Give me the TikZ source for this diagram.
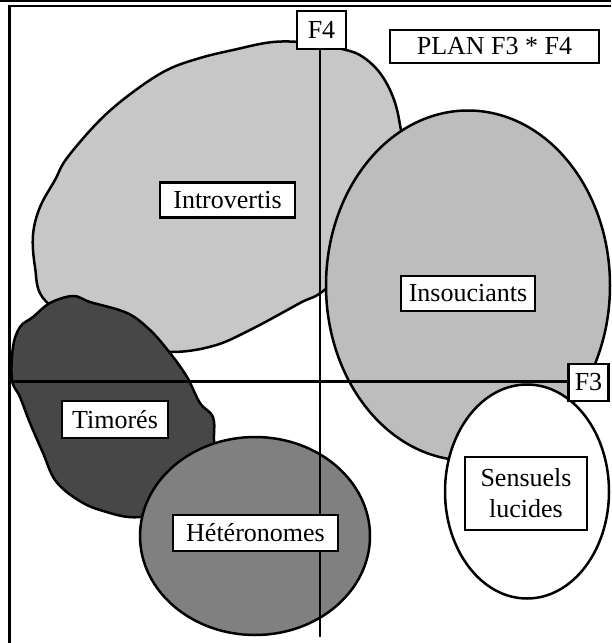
\documentclass[tikz,border=0pt]{standalone}
\usepackage{fontspec}
\setmainfont{Liberation Serif}
\begin{document}
\begin{tikzpicture}[x=1pt,y=-1pt,
  outline/.style={draw=black,line width=2.5pt,line join=round},
  tag/.style={draw=black,line width=2.4pt,fill=white,inner sep=0pt,
    font=\fontsize{26}{31}\selectfont,text=black,align=center},
  axis/.style={draw=black,line width=2.2pt}]
\definecolor{introfill}{gray}{0.78}
\definecolor{insoufill}{gray}{0.74}
\definecolor{timofill}{gray}{0.28}
\definecolor{heterofill}{gray}{0.50}
\useasboundingbox (0,0) rectangle (611,643);

% frame
\draw[line width=1.8pt] (0,1.2) -- (611,1.2);
\draw[line width=2.5pt] (611,5.8) -- (9.5,5.8) -- (9.5,643);

% Introvertis
\draw[outline,fill=introfill] plot[smooth cycle,tension=0.6] coordinates {
  (43,298) (35,267) (33,235) (40,207) (55,180) (67,158) (100,120) (133,92)
  (167,70) (200,58) (233,50) (273,42) (310,43) (346,50) (363,57) (380,73)
  (393,97) (400,125) (405,170) (390,230) (327,288) (300,303) (250,330)
  (213,346) (170,352) (120,345) (80,325)};

% Timores
\draw[outline,fill=timofill] plot[smooth cycle,tension=0.6] coordinates {
  (73,296) (90,302) (127,313) (150,330) (170,353) (187,377) (200,403)
  (213,417) (214,440) (215,470) (190,500) (140,517) (100,510) (75,498)
  (55,480) (43,453) (30,423) (20,397) (12,380) (13,347) (20,327) (33,317)
  (50,303)};

% Insouciants
\draw[outline,fill=insoufill] (468,285.5) ellipse [x radius=142, y radius=175];

% Heteronomes
\draw[outline,fill=heterofill] (255,536) ellipse [x radius=115, y radius=99];

% Sensuels lucides
\draw[outline,fill=white] (527,491.5) ellipse [x radius=82, y radius=107];

% axis labels and axes
\node[tag,minimum width=49pt,minimum height=38pt] (f4) at (321.5,30) {F4};
\node[tag,minimum width=40pt,minimum height=37pt] (f3) at (588.5,382.5) {F3};
\coordinate (f4end) at (320,637);
\coordinate (f3start) at (10,381.5);
\draw[axis] (f4.south -| f4end) -- (f4end);
\draw[axis] (f3start) -- (f3.west |- f3start);

% title
\node[tag,minimum width=209pt,minimum height=33pt] (plan) at (494.5,46.5) {PLAN F3 * F4};

% group labels
\node[tag,minimum width=135pt,minimum height=35pt] (intro) at (227.5,200) {Introvertis};
\node[tag,minimum width=134pt,minimum height=35pt] (insou) at (468,293.5) {Insouciants};
\node[tag,minimum width=106pt,minimum height=37pt] (timo) at (115,419.5) {Timorés};
\node[tag,minimum width=165pt,minimum height=36pt] (hetero) at (255.5,533) {Hétéronomes};
\node[tag,minimum width=122pt,minimum height=73pt] (sens) at (526,493.5) {Sensuels\\lucides};
\end{tikzpicture}
\end{document}
